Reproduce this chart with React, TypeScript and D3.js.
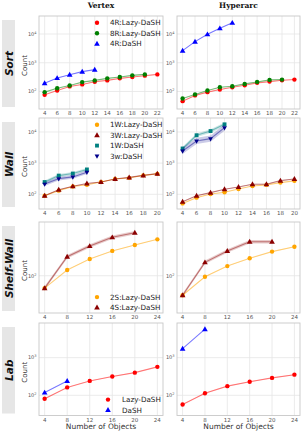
import React from "react";
import * as d3 from "d3";

// ---------- data ----------
const sortX = [4, 6, 8, 10, 12, 14, 16, 18, 20, 22];
const sortXTicks = [4, 6, 8, 10, 12, 14, 16, 18, 20, 22];
const sortVertex4RLazy = [77, 108, 150, 176, 219, 243, 286, 318, 355, 394];
const sortVertex8RLazy = [95, 130, 162, 212, 243, 286, 318, 364, 394];
const sortVertex4RDash = [195, 293, 385, 490, 575];
const sortHyper4RLazy = [46, 73, 95, 117, 140, 165, 200, 221, 245, 260];
const sortHyper8RLazy = [57, 79, 108, 140, 152, 184, 215, 253, 260];
const sortHyper4RDash = [2630, 5430, 9760, 15800, 24500];

const wallX = [4, 6, 8, 10, 12, 14, 16, 18, 20];
const wallXTicks = [4, 6, 8, 10, 12, 14, 16, 18, 20];
const wallVertex1WLazy = [90, 131, 177, 202, 247, 310, 335, 405, 453];
const wallVertex3WLazy = [90, 140, 180, 222, 247, 310, 350, 405, 460];
const wallVertex1WDash = [247, 398, 463, 627];
const wallVertex3wDash = [213, 318, 361, 512];
const wallHyper1WLazy = [51, 78, 102, 116, 148, 185, 200, 237, 270];
const wallHyper3WLazy = [58, 90, 113, 145, 172, 210, 210, 275, 310];
const wallHyper1WDash = [2950, 7850, 10700, 17600];
const wallHyper3wDash = [2460, 5150, 6100, 13800];

const shelfX = [4, 8, 12, 16, 20, 24];
const shelfXTicks = [4, 8, 12, 16, 20, 24];
const shelfVertex2S = [70, 118, 162, 204, 242, 285];
const shelfVertex4S = [70, 173, 235, 302, 345];
const shelfHyper2S = [57, 97, 132, 165, 200, 230];
const shelfHyper4S = [57, 147, 204, 266, 266];

const labX = [4, 8, 12, 16, 20, 24];
const labXTicks = [4, 8, 12, 16, 20, 24];
const labVertexLazy = [81, 162, 241, 315, 400, 570];
const labVertexDash = [118, 241];
const labHyperLazy = [57, 113, 175, 229, 290, 353];
const labHyperDash = [1740, 5750];

const columnTitles = ["Vertex", "Hyperarc"];
const rowTitles = ["Sort", "Wall", "Shelf-Wall", "Lab"];

// ---------- styles ----------
const C = {
  red: "#ff0000",
  green: "#008000",
  blue: "#0000ff",
  orange: "#ffa500",
  darkred: "#8b0000",
  teal: "#008080",
  navy: "#00008b",
};

type Series = { label: string; x: number[]; y: number[]; color: string; marker: string; band: number };

const W = 304;
const H = 432;
const cols = [
  { x0: 39, x1: 163 },
  { x0: 177, x1: 300 },
];

type Row = {
  y0: number;
  y1: number;
  xDomain: [number, number];
  xTicks: number[];
  yDomain: [number, number];
  yTicks: number[];
  panels: Series[][];
  legendPos: "top" | "bottom";
  legendMarkerX: number;
  legendTextX: number;
};

const S = (label: string, x: number[], y: number[], color: string, marker: string, band = 0.012): Series => ({
  label,
  x: x.slice(0, y.length),
  y,
  color,
  marker,
  band,
});

const rows: Row[] = [
  {
    y0: 16,
    y1: 109,
    xDomain: [3.1, 22.9],
    xTicks: sortXTicks,
    yDomain: [24.6, 42300],
    yTicks: [100, 1000, 10000],
    panels: [
      [
        S("4R:Lazy-DaSH", sortX, sortVertex4RLazy, C.red, "circle"),
        S("8R:Lazy-DaSH", sortX, sortVertex8RLazy, C.green, "circle"),
        S("4R:DaSH", sortX, sortVertex4RDash, C.blue, "triangle"),
      ],
      [
        S("4R:Lazy-DaSH", sortX, sortHyper4RLazy, C.red, "circle"),
        S("8R:Lazy-DaSH", sortX, sortHyper8RLazy, C.green, "circle"),
        S("4R:DaSH", sortX, sortHyper4RDash, C.blue, "triangle"),
      ],
    ],
    legendPos: "top",
    legendMarkerX: 58,
    legendTextX: 71,
  },
  {
    y0: 118,
    y1: 209,
    xDomain: [3.2, 20.8],
    xTicks: wallXTicks,
    yDomain: [33.7, 28100],
    yTicks: [100, 1000, 10000],
    panels: [
      [
        S("1W:Lazy-DaSH", wallX, wallVertex1WLazy, C.orange, "circle"),
        S("3W:Lazy-DaSH", wallX, wallVertex3WLazy, C.darkred, "triangle"),
        S("1W:DaSH", wallX, wallVertex1WDash, C.teal, "square", 0.05),
        S("3w:DaSH", wallX, wallVertex3wDash, C.navy, "triangleDown", 0.06),
      ],
      [
        S("1W:Lazy-DaSH", wallX, wallHyper1WLazy, C.orange, "circle"),
        S("3W:Lazy-DaSH", wallX, wallHyper3WLazy, C.darkred, "triangle"),
        S("1W:DaSH", wallX, wallHyper1WDash, C.teal, "square", 0.06),
        S("3w:DaSH", wallX, wallHyper3wDash, C.navy, "triangleDown", 0.1),
      ],
    ],
    legendPos: "top",
    legendMarkerX: 58,
    legendTextX: 71,
  },
  {
    y0: 222,
    y1: 313,
    xDomain: [3, 25],
    xTicks: shelfXTicks,
    yDomain: [34.2, 469],
    yTicks: [100],
    panels: [
      [
        S("2S:Lazy-DaSH", shelfX, shelfVertex2S, C.orange, "circle", 0.005),
        S("4S:Lazy-DaSH", shelfX, shelfVertex4S, C.darkred, "triangle", 0.022),
      ],
      [
        S("2S:Lazy-DaSH", shelfX, shelfHyper2S, C.orange, "circle", 0.005),
        S("4S:Lazy-DaSH", shelfX, shelfHyper4S, C.darkred, "triangle", 0.022),
      ],
    ],
    legendPos: "bottom",
    legendMarkerX: 58,
    legendTextX: 71,
  },
  {
    y0: 323,
    y1: 415.5,
    xDomain: [3, 25],
    xTicks: labXTicks,
    yDomain: [29, 8360],
    yTicks: [100, 1000],
    panels: [
      [
        S("Lazy-DaSH", labX, labVertexLazy, C.red, "circle"),
        S("DaSH", labX, labVertexDash, C.blue, "triangle"),
      ],
      [
        S("Lazy-DaSH", labX, labHyperLazy, C.red, "circle"),
        S("DaSH", labX, labHyperDash, C.blue, "triangle"),
      ],
    ],
    legendPos: "bottom",
    legendMarkerX: 69,
    legendTextX: 83,
  },
];

const symbolFor = (m: string) => {
  if (m === "circle") return d3.symbol(d3.symbolCircle, 15)();
  if (m === "square") return d3.symbol(d3.symbolSquare, 15)();
  if (m === "triangle") return d3.symbol(d3.symbolTriangle, 14)();
  return "M-2.4,-1.4L2.4,-1.4L0,2.8Z";
};

const Marker = ({ m, x, y, color }: { m: string; x: number; y: number; color: string }) => (
  <path d={symbolFor(m) || ""} transform={`translate(${x},${y + (m === "triangle" ? 0.4 : 0)})`} fill={color} />
);

const SANS = "'DejaVu Sans', sans-serif";

function Panel({ row, ci }: { row: Row; ci: number }) {
  const col = cols[ci];
  const xs = d3.scaleLinear().domain(row.xDomain).range([col.x0, col.x1]);
  const ys = d3.scaleLog().domain(row.yDomain).range([row.y1, row.y0]);
  const series = row.panels[ci];
  return (
    <g>
      <rect x={col.x0} y={row.y0} width={col.x1 - col.x0} height={row.y1 - row.y0} fill="#fff" />
      {row.xTicks.map((t) => (
        <line key={"gx" + t} x1={xs(t)} x2={xs(t)} y1={row.y0} y2={row.y1} stroke="#e6e6e6" strokeWidth={0.8} />
      ))}
      {row.yTicks.map((t) => (
        <line key={"gy" + t} x1={col.x0} x2={col.x1} y1={ys(t)} y2={ys(t)} stroke="#e6e6e6" strokeWidth={0.8} />
      ))}
      <rect
        x={col.x0}
        y={row.y0}
        width={col.x1 - col.x0}
        height={row.y1 - row.y0}
        fill="none"
        stroke="#c8c8c8"
        strokeWidth={0.9}
      />
      {row.xTicks.map((t) => (
        <text
          key={"tx" + t}
          x={xs(t)}
          y={row.y1 + 6}
          fontSize={5.5}
          fill="#555"
          textAnchor="middle"
          fontFamily={SANS}
        >
          {t}
        </text>
      ))}
      {row.yTicks.map((t) => (
        <text
          key={"ty" + t}
          x={col.x0 - 2.5}
          y={ys(t) + 1.8}
          fontSize={5}
          fill="#555"
          textAnchor="end"
          fontFamily={SANS}
        >
          10
          <tspan fontSize={3.5} dy={-2}>
            {Math.round(Math.log10(t))}
          </tspan>
        </text>
      ))}
      {series.map((s, si) => {
        const pts = s.x.map((x, i) => [x, s.y[i]] as [number, number]);
        const line = d3
          .line<[number, number]>()
          .x((d) => xs(d[0]))
          .y((d) => ys(d[1]))(pts);
        const area = d3
          .area<[number, number]>()
          .x((d) => xs(d[0]))
          .y0((d) => ys(d[1] * Math.pow(10, -s.band)))
          .y1((d) => ys(d[1] * Math.pow(10, s.band)))(pts);
        return (
          <g key={si}>
            <path d={area || ""} fill={s.color} fillOpacity={0.2} />
            <path d={line || ""} fill="none" stroke={s.color} strokeOpacity={0.45} strokeWidth={1.1} />
            {pts.map((p, i) => (
              <Marker key={i} m={s.marker} x={xs(p[0])} y={ys(p[1])} color={s.color} />
            ))}
          </g>
        );
      })}
    </g>
  );
}

function Legend({ row }: { row: Row }) {
  const items = row.panels[0];
  const n = items.length;
  const step = 10.4;
  const startY = row.legendPos === "top" ? row.y0 + 6.8 : row.y1 - 5.5 - (n - 1) * step;
  const x0 = cols[0].x0;
  return (
    <g>
      {items.map((s, i) => (
        <g key={i}>
          <Marker m={s.marker} x={x0 + row.legendMarkerX} y={startY + i * step} color={s.color} />
          <text
            x={x0 + row.legendTextX}
            y={startY + i * step}
            dy="0.35em"
            fontSize={7.2}
            fill="#222"
            fontFamily={SANS}
          >
            {s.label}
          </text>
        </g>
      ))}
    </g>
  );
}

export default function App() {
  return (
    <div>
      <style>{`body{margin:0}`}</style>
      <svg width={W} height={H} style={{ display: "block" }}>
        <rect width={W} height={H} fill="#fff" />
        {columnTitles.map((t, i) => (
          <text
            key={t}
            x={(cols[i].x0 + cols[i].x1) / 2}
            y={8}
            textAnchor="middle"
            fontSize={7.5}
            fontWeight="bold"
            fontFamily="'DejaVu Serif', serif"
            fill="#111"
          >
            {t}
          </text>
        ))}
        {rows.map((row, ri) => {
          const cy = (row.y0 + row.y1) / 2;
          return (
            <g key={ri}>
              <rect x={2} y={row.y0 + 4} width={13} height={row.y1 - row.y0 - 6} fill="#e6e6e6" />
              <text
                transform={`translate(9,${cy + 1}) rotate(-90)`}
                textAnchor="middle"
                dy="0.35em"
                fontSize={10.5}
                fontWeight="bold"
                fontStyle="italic"
                fontFamily={SANS}
                fill="#111"
              >
                {rowTitles[ri]}
              </text>
              <text
                transform={`translate(25,${cy + 3}) rotate(-90)`}
                textAnchor="middle"
                dy="0.35em"
                fontSize={7}
                fontFamily={SANS}
                fill="#333"
              >
                Count
              </text>
              <Panel row={row} ci={0} />
              <Panel row={row} ci={1} />
              <Legend row={row} />
            </g>
          );
        })}
        {cols.map((c, i) => (
          <text
            key={"xl" + i}
            x={(c.x0 + c.x1) / 2}
            y={429}
            textAnchor="middle"
            fontSize={7.5}
            fontFamily={SANS}
            fill="#333"
          >
            Number of Objects
          </text>
        ))}
      </svg>
    </div>
  );
}
